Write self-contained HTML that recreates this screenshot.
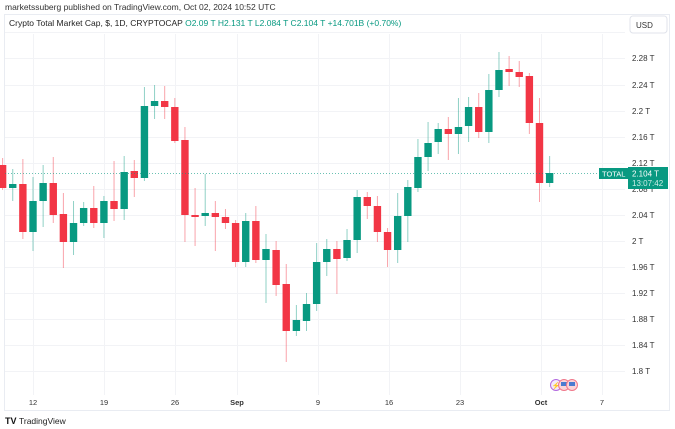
<!DOCTYPE html>
<html><head><meta charset="utf-8">
<style>
html,body{margin:0;padding:0;background:#fff;width:675px;height:429px;overflow:hidden;font-family:"Liberation Sans",sans-serif;}
svg{display:block}
</style></head>
<body>
<svg id="c" width="675" height="429" viewBox="0 0 675 429" xmlns="http://www.w3.org/2000/svg" font-family="Liberation Sans, sans-serif">
<text x="5" y="10" font-size="8.5" fill="#333">marketssuberg published on TradingView.com, Oct 02, 2024 10:52 UTC</text>
<rect x="4.5" y="14.5" width="665" height="396" fill="none" stroke="#e9ecf2"/>
<g id="grid" stroke="#f2f3f6" stroke-width="1"></g>
<g id="candles"></g>
<text x="9" y="26" font-size="8.5" fill="#222">Crypto Total Market Cap, $, 1D, CRYPTOCAP <tspan fill="#089981">O</tspan><tspan fill="#089981">2.09 T</tspan> <tspan fill="#089981">H</tspan><tspan fill="#089981">2.131 T</tspan> <tspan fill="#089981">L</tspan><tspan fill="#089981">2.084 T</tspan> <tspan fill="#089981">C</tspan><tspan fill="#089981">2.104 T</tspan> <tspan fill="#089981">+14.701B (+0.70%)</tspan></text>
<line x1="5" x2="628" y1="173.5" y2="173.5" stroke="#089981" stroke-width="1" stroke-dasharray="1,2" opacity="0.6"/>
<rect x="630" y="16" width="37" height="17" rx="3" fill="#fff" stroke="#e0e3eb"/>
<text x="636" y="28" font-size="8" fill="#333">USD</text>
<g id="plabels" font-size="8" fill="#333"></g>
<rect x="599" y="168" width="29" height="11" fill="#089981"/>
<text x="602" y="176.5" font-size="7.5" fill="#fff">TOTAL</text>
<rect x="628" y="167" width="40" height="22" fill="#089981"/>
<text x="632" y="176.5" font-size="8" fill="#fff">2.104 T</text>
<text x="632" y="186" font-size="8" fill="#cdeee7">13:07:42</text>
<g font-size="7.5" fill="#333" text-anchor="middle">
<text x="33" y="405">12</text><text x="104" y="405">19</text><text x="175" y="405">26</text>
<text x="237" y="405" font-weight="bold">Sep</text><text x="318" y="405">9</text><text x="389" y="405">16</text>
<text x="460" y="405">23</text><text x="541" y="405" font-weight="bold">Oct</text><text x="602" y="405">7</text>
</g>
<circle cx="556" cy="385" r="5.5" fill="#f3e8fb" stroke="#b36ae0"/>
<text x="556" y="388" font-size="7" fill="#9c3fd6" text-anchor="middle">⚡</text>
<circle cx="564" cy="385" r="5.5" fill="#fbd4d8" stroke="#f0788a"/>
<rect x="561" y="382" width="6" height="4" fill="#4a7bd0"/>
<circle cx="572" cy="385" r="5.5" fill="#fbd4d8" stroke="#f0788a"/>
<rect x="569" y="382" width="6" height="4" fill="#4a7bd0"/>
<text x="5" y="424" font-size="9" fill="#111" font-weight="bold">TV</text>
<text x="19" y="424" font-size="8.5" fill="#222">TradingView</text>
</svg>
<script>
var NS="http://www.w3.org/2000/svg";
function el(p,n,a){var e=document.createElementNS(NS,n);for(var k in a)e.setAttribute(k,a[k]);p.appendChild(e);return e;}
var grid=document.getElementById("grid"),cg=document.getElementById("candles"),pl=document.getElementById("plabels");
var ys=[[58,"2.28 T"],[85,"2.24 T"],[111,"2.2 T"],[137,"2.16 T"],[163,"2.12 T"],[189,"2.08 T"],[215,"2.04 T"],[241,"2 T"],[267,"1.96 T"],[293,"1.92 T"],[319,"1.88 T"],[345,"1.84 T"],[371,"1.8 T"]];
ys.forEach(function(y){el(grid,"line",{x1:5,x2:625,y1:y[0]+.5,y2:y[0]+.5});var t=el(pl,"text",{x:632,y:y[0]+3});t.textContent=y[1];});
el(grid,"line",{x1:5,x2:625,y1:32.5,y2:32.5});
[33,104,175,237,318,389,460,541,602].forEach(function(x){el(grid,"line",{x1:x+.5,x2:x+.5,y1:34,y2:395});});
// [day, open, close, high, low] in pixel y
var d=[[-3,165,188,158,190],[-2,188,184,169,201],[-1,184,232,159,239],[0,232,201,177,251],[1,201,183,165,227],[2,183,215,157,223],[3,214,242,193,268],[4,242,223,201,255],[5,223,208,202,226],[6,208,223,186,228],[7,223,201,196,238],[8,201,209,161,221],[9,209,172,156,220],[10,171,178,160,197],[11,178,106,87,181],[12,106,101,85,119],[13,101,107,86,119],[14,107,141,98,143],[15,140,215,127,242],[16,215,217,188,246],[17,216,213,174,226],[18,213,217,201,251],[19,217,223,209,229],[20,223,262,220,267],[21,262,221,213,267],[22,221,260,206,263],[23,260,249,234,303],[24,250,285,241,296],[25,284,331,264,362],[26,331,320,305,336],[27,321,304,293,331],[28,304,262,243,311],[29,262,249,239,276],[30,249,259,241,294],[31,258,240,229,261],[32,240,197,190,253],[33,197,206,192,219],[34,206,232,196,242],[35,232,250,228,267],[36,250,216,193,263],[37,216,187,180,242],[38,188,157,139,192],[39,157,143,122,171],[40,142,129,123,154],[41,129,134,117,160],[42,134,127,98,154],[43,126,107,97,142],[44,107,132,93,138],[45,132,90,74,143],[46,90,70,52,97],[47,69,72,56,86],[48,72,77,61,87],[49,76,123,73,134],[50,123,183,98,202],[51,183,173,156,187]];
d.forEach(function(c){var x=33+10.13*c[0];var up=c[2]<c[1];var col=up?"#089981":"#f23645";
el(cg,"line",{x1:x,x2:x,y1:c[3],y2:c[4],stroke:col,"stroke-width":1,opacity:0.45});
var t=Math.min(c[1],c[2]),h=Math.max(1.5,Math.abs(c[1]-c[2]));
el(cg,"rect",{x:x-3.7,y:t,width:7.4,height:h,fill:col});});
</script>
</body></html>
